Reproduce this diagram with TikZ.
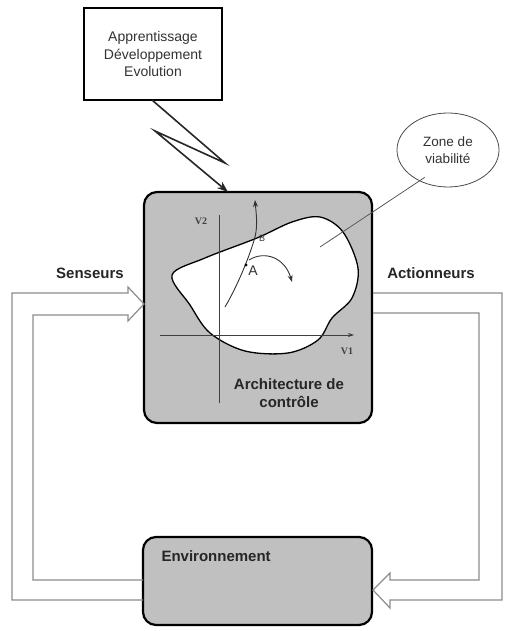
\documentclass[tikz,border=0pt]{standalone}
\usepackage{fontspec}
\setmainfont{Liberation Sans}
\newfontfamily\serifv{Liberation Serif}
\usetikzlibrary{arrows.meta,shapes.geometric}
\definecolor{boxgray}{RGB}{192,192,192}
\definecolor{linegray}{RGB}{140,140,140}
\begin{document}
\begin{tikzpicture}[x=1pt,y=-1pt,
  bigbox/.style={draw=black,line width=2.2pt,fill=boxgray,rounded corners=13pt},
  hollow/.style={draw=linegray,line width=1.2pt,line join=miter},
  thin/.style={draw=black!75,line width=0.8pt},
  lbl/.style={font=\fontsize{15}{18}\selectfont\bfseries,text=black!85},
  txt/.style={font=\fontsize{14}{17.5}\selectfont,text=black!80,align=center}]
\useasboundingbox (0,0) rectangle (504,631);
% main boxes
\draw[bigbox] (144,192) rectangle (372,423);
\node[inner sep=0] (main) at (258,307.5) {};
\draw[bigbox] (143,537) rectangle (372,625);
\node[lbl,anchor=west] (env) at (158,556) {Environnement};
% top box
\node[draw=black,line width=1.8pt,fill=white,minimum width=138pt,minimum height=92pt,inner sep=0,txt] (learn) at (153,54) {Apprentissage\\Développement\\Evolution};
% lightning
\coordinate (z1) at (225,163);
\coordinate (z2) at (155,131);
\coordinate (zt) at (228,192);
\draw[black!85,line width=1.6pt,line join=miter,-{Stealth[length=11pt,width=8pt]}] (152,100) -- (z1) -- (z2) -- (zt);
% viability zone blob
\draw[black,line width=1.3pt,fill=white] plot[smooth cycle,tension=0.55] coordinates {
 (172,275) (205,258) (257,238) (292,222) (320,217) (343,232) (358,268) (352,298) (332,318) (318,340) (288,353) (245,351) (210,333) (190,305)};
% axes
\draw[thin] (219,215) -- (219,403);
\draw[thin,-{Stealth[length=6pt,width=4pt]}] (160,335) -- (354,335);
\node[font=\serifv\fontsize{10}{12}\selectfont\bfseries,text=black!75] (v2) at (201,221) {V2};
\node[font=\serifv\fontsize{10}{12}\selectfont\bfseries,text=black!75] (v1) at (347,351) {V1};
% trajectory
\coordinate (tA) at (246,265);
\coordinate (tB) at (255,237);
\draw[black!80,line width=0.9pt,-{Stealth[length=7pt,width=5pt]}] (225,307) .. controls (238,285) and (250,255) .. (tB) .. controls (258,225) and (256,212) .. (255,200);
\fill[black] (tA) circle (1.6pt);
\node[font=\fontsize{14}{16}\selectfont,text=black!80] (A) at (253,271) {A};
\node[font=\fontsize{9}{10}\selectfont,text=black!80] (B) at (262,238) {B};
\draw[black!80,line width=0.9pt,-{Stealth[length=7pt,width=5pt]}] (249,260) .. controls (265,250) and (285,258) .. (292,282);
% ellipse label
\node[draw=black!70,line width=0.8pt,fill=white,ellipse,minimum width=102pt,minimum height=74pt,inner sep=0,font=\fontsize{13.5}{17}\selectfont,text=black!80,align=center] (zone) at (448,150) {Zone de\\viabilité};
\draw[black!65,line width=0.8pt] (zone.south west) ++(13,1) -- (320,247);
% Senseurs hollow arrow
\node[lbl] (sens) at (90,273) {Senseurs};
\draw[hollow] (143,600) -- (12,600) -- (12,293) -- (128,293) -- (128,287) -- (144,304) -- (128,321) -- (128,315) -- (33,315) -- (33,580) -- (143,580);
% Actionneurs hollow arrow
\node[lbl] (act) at (431,273) {Actionneurs};
\draw[hollow] (373,293) -- (502,293) -- (502,600) -- (390,600) -- (390,608) -- (373,590) -- (390,573) -- (390,580) -- (479,580) -- (479,313) -- (373,313);
% main label
\node[lbl,align=center] (arch) at (289,393) {Architecture de\\contrôle};
\end{tikzpicture}
\end{document}
